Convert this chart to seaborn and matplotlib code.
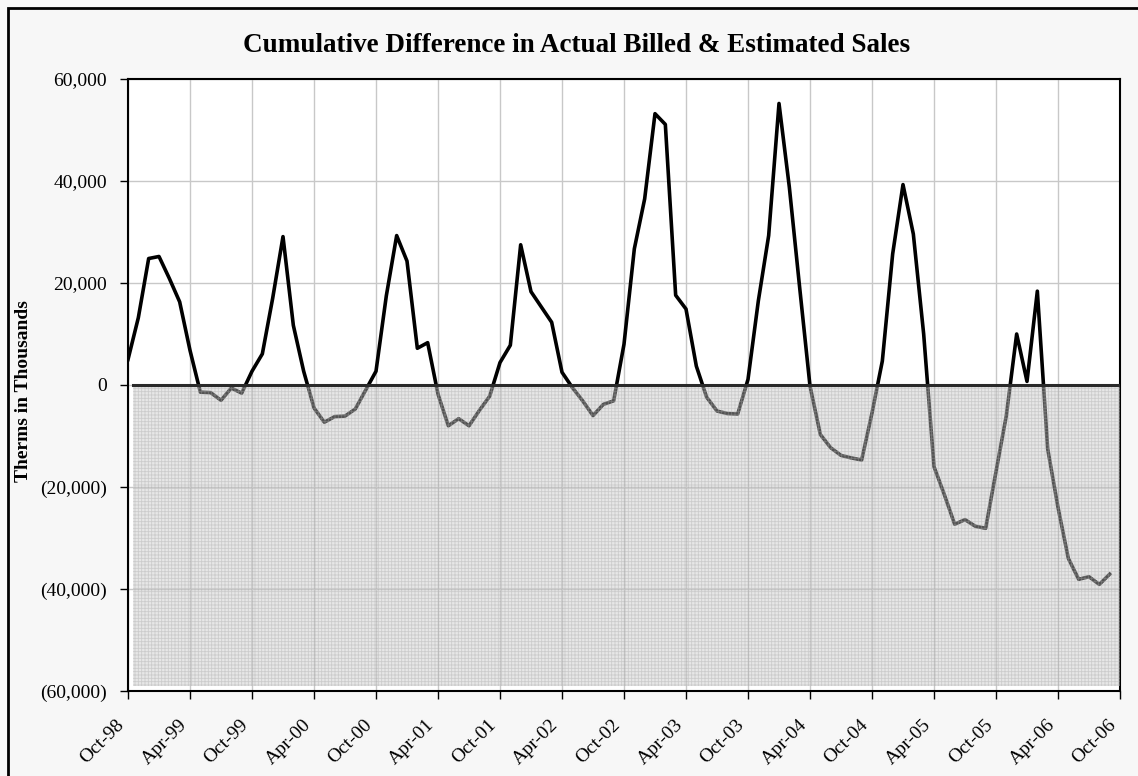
import matplotlib
matplotlib.use("Agg")
import matplotlib.pyplot as plt
import matplotlib.transforms as mtransforms
import seaborn as sns
import pandas as pd
from matplotlib.ticker import FuncFormatter

# monthly values, Oct-98 .. Sep-06 (therms in thousands)
cum_diff = [
    5000, 13200, 24800, 25200, 20900, 16300, 6800, -1400, -1500, -3000, -600, -1600,
    2700, 6100, 17000, 29100, 11700, 2700, -4500, -7300, -6200, -6100, -4700, -1000,
    2700, 17500, 29300, 24300, 7200, 8300, -1800, -8000, -6600, -8000, -5000, -2200,
    4400, 7800, 27500, 18300, 15300, 12300, 2500, -500, -3100, -6000, -3800, -3100,
    8000, 26700, 36500, 53200, 51100, 17600, 14900, 3700, -2400, -5100, -5600, -5700,
    1100, 16500, 29300, 55200, 38800, 19100, -200, -9700, -12300, -13800, -14300, -14700,
    -5500, 4700, 25700, 39300, 29600, 10000, -16000, -21500, -27300, -26400, -27700, -28100,
    -17000, -6000, 10000, 700, 18400, -12500, -24000, -34000, -38100, -37600, -39100, -37100,
]
tick_labels = ["Oct-98", "Apr-99", "Oct-99", "Apr-00", "Oct-00", "Apr-01", "Oct-01",
               "Apr-02", "Oct-02", "Apr-03", "Oct-03", "Apr-04", "Oct-04", "Apr-05",
               "Oct-05", "Apr-06", "Oct-06"]
y_ticks = [-60000, -40000, -20000, 0, 20000, 40000, 60000]
shade_floor = -59000

df = pd.DataFrame({"month": range(len(cum_diff)), "diff": cum_diff})

plt.rcParams["font.family"] = ["Liberation Serif", "DejaVu Serif"]
plt.rcParams["hatch.linewidth"] = 0.6

fig = plt.figure(figsize=(11.38, 7.76), dpi=100, facecolor="#f7f7f7")
ax = fig.add_axes([128 / 1138, 1 - 691 / 776, 992 / 1138, 612 / 776])
ax.set_facecolor("white")

sns.lineplot(data=df, x="month", y="diff", color="black", linewidth=2.6, ax=ax, zorder=3)

# shaded negative band (drawn over the line so it greys it out)
ax.axhspan(shade_floor, 0, xmin=0.005, xmax=1, facecolor="#c8c8c8", alpha=0.42,
           edgecolor="#a8a8a8", hatch="+++++", linewidth=0, zorder=4)
ax.axhline(0, xmin=0.005, color="#2a2a2a", linewidth=2.2, zorder=5)

ax.set_xlim(0, 96)
ax.set_ylim(-60000, 60000)
ax.set_xticks(range(0, 97, 6))
ax.set_yticks(y_ticks)
ax.yaxis.set_major_formatter(FuncFormatter(
    lambda v, p: f"({abs(v):,.0f})" if v < 0 else f"{v:,.0f}"))
ax.tick_params(axis="y", labelsize=14, length=6, width=1, direction="out",
               color="black", pad=9)
ax.tick_params(axis="x", length=6, width=1, direction="out", color="black", pad=16)
ax.set_xticklabels(tick_labels, rotation=45, ha="right", va="center",
                   rotation_mode="anchor", fontsize=14)
shift = mtransforms.ScaledTranslation(-6 / 100, -1 / 100, fig.dpi_scale_trans)
for lbl in ax.get_xticklabels():
    lbl.set_transform(lbl.get_transform() + shift)

ax.grid(True, color="#c8c8c8", linewidth=1, zorder=0)
ax.set_axisbelow(True)
for s in ax.spines.values():
    s.set_color("black")
    s.set_linewidth(1.5)

ax.set_xlabel(None)
ax.set_ylabel(None)

fig.text(577 / 1138, 1 - 46 / 776, "Cumulative Difference in Actual Billed & Estimated Sales",
         ha="center", va="center", fontsize=19.5, fontweight="bold")
fig.text(24 / 1138, 1 - 391 / 776, "Therms in Thousands", rotation=90,
         ha="center", va="center", fontsize=14, fontweight="bold")

# outer chart border
fig.add_artist(plt.Rectangle((8 / 1138, -0.1), 1.2, 1.1 - 8 / 776, transform=fig.transFigure,
                             fill=False, edgecolor="black", linewidth=2))

fig.savefig("out.png", dpi=100, facecolor=fig.get_facecolor())
